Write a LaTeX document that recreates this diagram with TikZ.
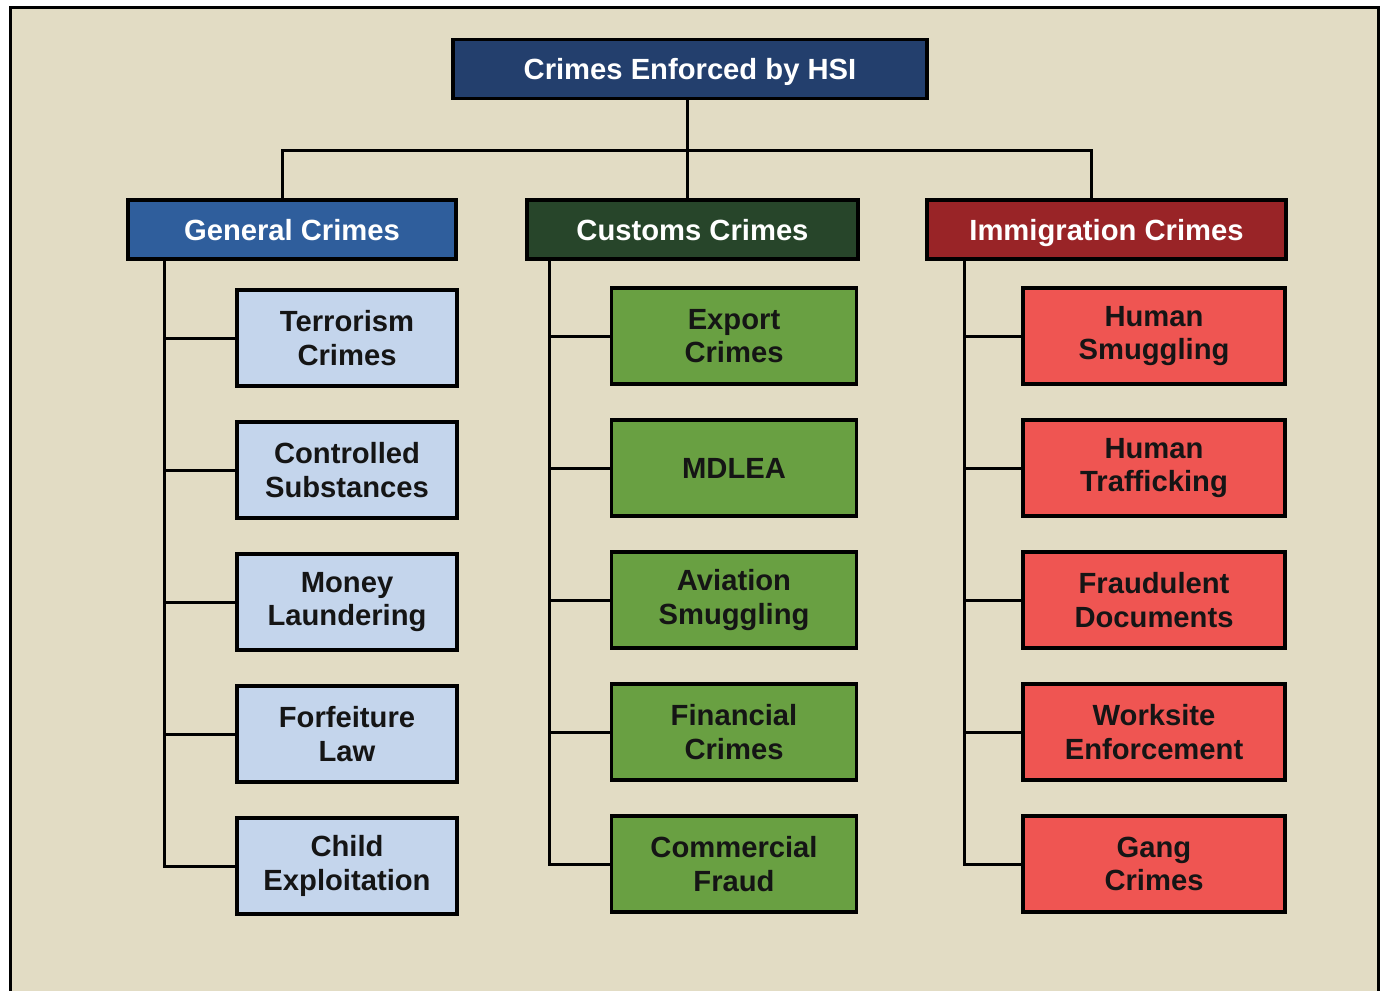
\documentclass[tikz,border=0pt]{standalone}
\usepackage{fontspec}
\setmainfont{Liberation Sans}
\usepackage{tikz}
\usetikzlibrary{positioning}
\usepackage{xcolor}
\definecolor{sand}{HTML}{E2DCC4}
\definecolor{navy}{HTML}{233F6D}
\definecolor{genblue}{HTML}{2F5E9C}
\definecolor{pine}{HTML}{27452A}
\definecolor{brick}{HTML}{992427}
\definecolor{paleblue}{HTML}{C4D5EC}
\definecolor{grass}{HTML}{69A042}
\definecolor{coral}{HTML}{EF5552}
\definecolor{ink}{HTML}{151515}

\begin{document}
\begin{tikzpicture}[x=0.5pt,y=-0.5pt,
   box/.style={draw=black,line width=1.6pt,align=center,inner sep=0pt,
      font=\fontsize{14.6}{16.6}\selectfont\bfseries},
   hdr/.style={box,text=white,minimum height=29.5pt,text depth=0pt},
   kid/.style={box,text=ink,minimum height=48pt},
   gkid/.style={kid,fill=paleblue,minimum width=110pt},
   ckid/.style={kid,fill=grass,minimum width=122.5pt},
   ikid/.style={kid,fill=coral,minimum width=131pt},
   wire/.style={line width=1.5pt,black}]
  \useasboundingbox (0,0) rectangle (1385,990);
  % panel
  \fill[sand] (10,8) rectangle (1378,995);
  \draw[line width=1.5pt] (10,995) -- (10,8) -- (1378,8) -- (1378,995);

  % heads
  \node[hdr,fill=navy,minimum width=237pt] (hsi) at (690,69) {Crimes Enforced by HSI};
  \node[hdr,fill=genblue,minimum width=164pt] (gen) at (292,229.5) {General Crimes};
  \node[hdr,fill=pine,minimum width=165.5pt] (cus) at (692.5,229.5) {Customs Crimes};
  \node[hdr,fill=brick,minimum width=179.5pt] (imm) at (1106.5,229.5) {Immigration Crimes};

  % general crimes
  \node[gkid] (terror) at (347,338) {Terrorism\\Crimes};
  \node[gkid,below=16.4pt of terror] (drugs) {Controlled\\Substances};
  \node[gkid,below=16.4pt of drugs] (money) {Money\\Laundering};
  \node[gkid,below=16.4pt of money] (forfeit) {Forfeiture\\Law};
  \node[gkid,below=16.4pt of forfeit] (child) {Child\\Exploitation};

  % customs crimes
  \node[ckid] (export) at (734,336) {Export\\Crimes};
  \node[ckid,below=16.4pt of export] (mdlea) {MDLEA};
  \node[ckid,below=16.4pt of mdlea] (aviation) {Aviation\\Smuggling};
  \node[ckid,below=16.4pt of aviation] (finance) {Financial\\Crimes};
  \node[ckid,below=16.4pt of finance] (fraud) {Commercial\\Fraud};

  % immigration crimes
  \node[ikid] (smuggle) at (1154,336) {Human\\Smuggling};
  \node[ikid,below=16.4pt of smuggle] (traffic) {Human\\Trafficking};
  \node[ikid,below=16.4pt of traffic] (docs) {Fraudulent\\Documents};
  \node[ikid,below=16.4pt of docs] (worksite) {Worksite\\Enforcement};
  \node[ikid,below=16.4pt of worksite] (gang) {Gang\\Crimes};

  % top bus
  \coordinate (bus) at (687,150);
  \draw[wire] (hsi.south -| bus) -- (bus);
  \draw[wire] ([xshift=-5pt]gen.north) |- (bus) -| ([xshift=-7.75pt]imm.north);
  \draw[wire] (bus) -- (cus.north -| bus);

  % spines
  \coordinate (gsp) at ([xshift=19pt]gen.south west);
  \coordinate (csp) at ([xshift=12pt]cus.south west);
  \coordinate (isp) at ([xshift=19.5pt]imm.south west);
  \draw[wire] (gsp) |- (child.west);
  \draw[wire] (csp) |- (fraud.west);
  \draw[wire] (isp) |- (gang.west);
  \foreach \n in {terror,drugs,money,forfeit}
    \draw[wire] (\n.west) -- (\n.west -| gsp);
  \foreach \n in {export,mdlea,aviation,finance}
    \draw[wire] (\n.west) -- (\n.west -| csp);
  \foreach \n in {smuggle,traffic,docs,worksite}
    \draw[wire] (\n.west) -- (\n.west -| isp);
\end{tikzpicture}
\end{document}
